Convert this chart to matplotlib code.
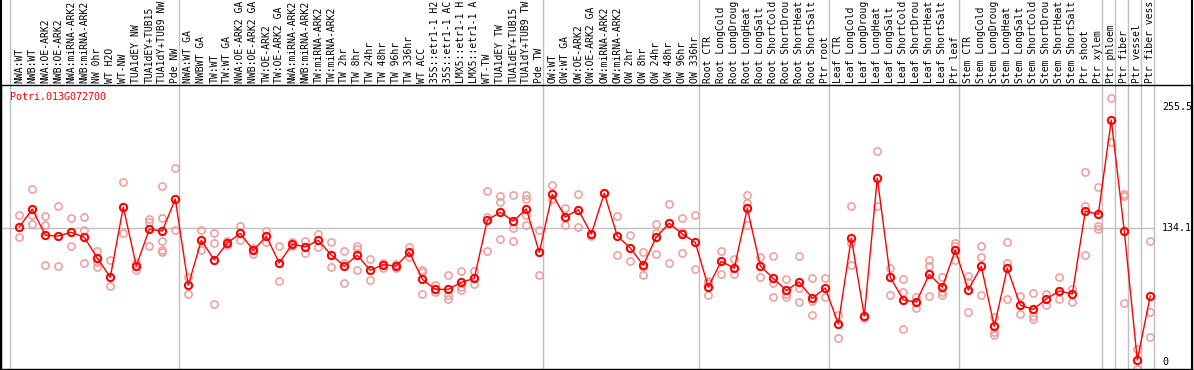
import matplotlib
matplotlib.use("Agg")
import matplotlib.pyplot as plt
import numpy as np

gene_name = "Potri.013G072700"

# column labels as far as they are visible above the plot
labels = [
    "NWA:WT", "NWB:WT", "NWA:OE-ARK2", "NWB:OE-ARK2", "NWA:miRNA-ARK2",
    "NWB:miRNA-ARK2", "NW 0hr", "WT H2O", "WT-NW", "TUA1dEY NW",
    "TUA1dEY+TUB15", "TUA1dY+TUB9 NW", "Pde NW",
    "NWA:WT GA", "NWBWT GA", "TW:WT", "TW:WT GA", "NWA:OE-ARK2 GA",
    "NWB:OE-ARK2 GA", "TW:OE-ARK2", "TW:OE-ARK2 GA", "NWA:miRNA-ARK2",
    "NWB:miRNA-ARK2", "TW:miRNA-ARK2", "TW:miRNA-ARK2", "TW 2hr", "TW 8hr",
    "TW 24hr", "TW 48hr", "TW 96hr", "TW 336hr", "WT ACC", "35S::etr1-1 H2",
    "35S::etr1-1 AC", "LMX5::etr1-1 H", "LMX5::etr1-1 A", "WT-TW",
    "TUA1dEY TW", "TUA1dEY+TUB15", "TUA1dY+TUB9 TW", "Pde TW",
    "OW:WT", "OW:WT GA", "OW:OE-ARK2", "OW:OE-ARK2 GA", "OW:miRNA-ARK2",
    "OW:miRNA-ARK2", "OW 2hr", "OW 8hr", "OW 24hr", "OW 48hr", "OW 96hr",
    "OW 336hr",
    "Root CTR", "Root LongCold", "Root LongDroug", "Root LongHeat",
    "Root LongSalt", "Root ShortCold", "Root ShortDrou", "Root ShortHeat",
    "Root ShortSalt", "Ptr root",
    "Leaf CTR", "Leaf LongCold", "Leaf LongDroug", "Leaf LongHeat",
    "Leaf LongSalt", "Leaf ShortCold", "Leaf ShortDrou", "Leaf ShortHeat",
    "Leaf ShortSalt", "Ptr leaf",
    "Stem CTR", "Stem LongCold", "Stem LongDroug", "Stem LongHeat",
    "Stem LongSalt", "Stem ShortCold", "Stem ShortDrou", "Stem ShortHeat",
    "Stem ShortSalt", "Ptr shoot", "Ptr xylem",
    "Ptr phloem", "Ptr fiber", "Ptr vessel", "Ptr fiber vess",
]

# number of columns in each sample group (separated by grey lines)
group_sizes = [13, 28, 12, 10, 10, 11, 1, 1, 1, 1]

mean_vals = [
    135, 153, 126.7, 126, 129.7, 124.7, 104, 84.7, 155, 96, 132.7, 131, 163,
    76.7, 121.7, 102, 119, 128.7, 111.7, 125.7, 99, 118, 115, 121.7, 107, 96,
    106.7, 91.7, 97.3, 96, 109.7, 82.7, 72.7, 72.7, 79.7, 83.7, 142, 149.7,
    141, 153, 109.7,
    167.7, 145, 152.3, 128, 168.7, 126, 114, 96.7, 125, 138.7, 128, 119.7,
    75, 100.7, 93.7, 153.7, 96, 83.7, 71.7, 80, 63.7, 74,
    38, 124, 46, 184, 84.7, 62, 60, 87.7, 74.7, 112,
    72, 95.7, 35.7, 93.7, 56.7, 52.7, 63, 71, 68, 150.7, 147.7,
    242, 130.7, 2, 66,
]

rep_vals = [
    [146.7, 125], [173, 147, 137.7], [146, 136.7, 97], [156, 96],
    [143.7, 115.7], [145, 132, 99], [111, 99.7, 95], [101.7, 76],
    [179.7, 128.7], [98.7, 92], [143.3, 140.3, 116],
    [175.7, 143.7, 121, 112, 109.7], [193.7, 132],
    [85.3, 67.7], [132, 112], [128.7, 118.7, 57.7], [121, 117],
    [136, 122], [113.7, 108.3], [131, 119.7], [115.7, 80.7], [120, 116],
    [121, 108.7], [128, 115.3], [119.7, 95], [110.7, 99.3, 79],
    [116, 113, 91.7], [103, 81.7], [99.3, 94.3], [98, 94], [115.3, 104.7],
    [92, 90, 67.7], [76.7, 69.7], [87, 66.7, 63.3], [91, 75, 72],
    [91, 77.7], [171, 145.3, 110.7], [165.7, 159.7, 123],
    [166.7, 133.7, 121], [167.3, 163, 146.7, 137.3], [131.7, 87],
    [176.7, 163], [154, 136.7], [167.7, 135], [126], [169],
    [146, 107], [127, 100.7], [109.7, 95, 86.7], [137.7, 128.7, 108],
    [157.7, 99], [143.7, 130.3, 109], [147, 92.7],
    [81.3, 78.7, 67], [110.7, 88], [103, 88], [166.7, 159.3, 137.3],
    [105, 85], [106, 79.3, 65], [82.7, 68.3, 65], [106, 73.7, 60],
    [83.7, 61.3, 47], [83.7, 64.7],
    [47, 24], [155.7, 119.3, 96.7], [43.7], [211, 155.7], [93.7, 67],
    [82.7, 70, 33], [65, 54.3], [102, 96, 66], [84.7, 70, 67.3],
    [119, 116.3, 102.3],
    [86.3, 80.3, 49.7], [115.7, 104.7, 67], [45.3, 30.3, 27],
    [119.7, 99.3, 62.7], [66, 48], [68.7, 46.3, 43], [68, 56.7],
    [84.7, 63.3], [72.7, 59.7], [189.7, 155.7, 107], [175, 136, 133.3],
    [264, 220], [167.7, 165.7, 58.7], [12.7, -7.3], [121, 49.7, 25],
]

y_ticks = [255.5, 134.1, 0]

mono = "DejaVu Sans Mono"
main_red = "#ff0000"
rep_red = "#f09a9a"

W, H = 1194, 370
fig = plt.figure(figsize=(W / 100, H / 100), dpi=100)

# plot box in pixels
box_l, box_r, box_t, box_b = 1, 1192, 85, 369
ax = fig.add_axes([box_l / W, (H - box_b) / H, (box_r - box_l) / W, (box_b - box_t) / H])

# column i sits at 19.3 + 13*i px, value v at 362 - v px
x0, dx = 19.3, 13.0
ax.set_xlim((box_l - x0) / dx, (box_r - x0) / dx)
ax.set_ylim(362 - box_b, 362 - box_t)
ax.set_xticks([])
ax.set_yticks([])
for s in ax.spines.values():
    s.set_color("black")
    s.set_linewidth(1)

x = np.arange(len(mean_vals))
top_frac = box_b / (box_b - box_t)  # axes fraction of figure top

# grey separators between groups
edges = np.concatenate([[0], np.cumsum(group_sizes)]) - 0.715
for e in edges:
    ax.axvline(e, ymin=0, ymax=top_frac, color="#c0c0c0", lw=1,
               clip_on=False, zorder=0)
ax.hlines(134.1, ax.get_xlim()[0], edges[-1], color="#c0c0c0", lw=1, zorder=0)

# borders run up through the label area
ax.axvline(ax.get_xlim()[0], ymin=0, ymax=top_frac, color="black", lw=1.5,
           clip_on=False)
ax.axvline(ax.get_xlim()[1], ymin=0, ymax=top_frac, color="black", lw=1.5,
           clip_on=False)

# replicates
for i, reps in enumerate(rep_vals):
    ax.plot([i] * len(reps), reps, "o", ms=5.2, mfc="none", mec=rep_red,
            mew=1.1, zorder=2, clip_on=True)

# mean line
ax.plot(x, mean_vals, "-", color=main_red, lw=1, zorder=3)
ax.plot(x, mean_vals, "o", ms=5.2, mfc="none", mec=main_red, mew=1.5, zorder=4)

# column labels
lab_y = (box_b - 83) / (box_b - box_t)
for i, lab in enumerate(labels):
    ax.text(i, lab_y, lab, rotation=90, ha="center", va="bottom",
            fontsize=7.0, family=mono, transform=ax.get_xaxis_transform(),
            clip_on=False)

ax.text((10 - x0) / dx, 265, gene_name, color=main_red, fontsize=7.2,
        family=mono, ha="left", va="center")

for v in y_ticks:
    ax.text((1162 - x0) / dx, v, f"{v:g}" if v == 0 else f"{v}", fontsize=7.2,
            family=mono, ha="left", va="center")

fig.savefig("out.png", dpi=100)
